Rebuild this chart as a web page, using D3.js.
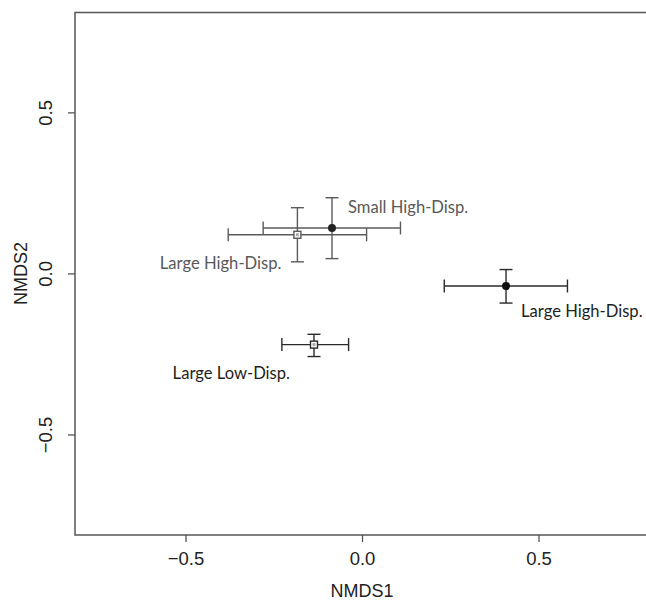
<!DOCTYPE html>
<html>
<head>
<meta charset="utf-8">
<script src="https://cdn.jsdelivr.net/npm/d3@7"></script>
<style>
  html, body { margin: 0; padding: 0; background: #fff; }
  svg { display: block; }
</style>
</head>
<body>
<svg id="chart" width="646" height="600"></svg>
<script>
// ---- data ----
const groups  = ["Small High-Disp.", "Large High-Disp.", "Large High-Disp.", "Large Low-Disp."];
const markers = ["circle", "square", "circle", "square"];
const nmds1   = [-0.085, -0.183, 0.408, -0.136];
const nmds1Lo = [-0.280, -0.379, 0.233, -0.227];
const nmds1Hi = [ 0.109,  0.013, 0.582, -0.038];
const nmds2   = [ 0.141,  0.120, -0.039, -0.221];
const nmds2Lo = [ 0.046,  0.036, -0.092, -0.258];
const nmds2Hi = [ 0.235,  0.204,  0.012, -0.189];
const xTicks = [-0.5, 0.0, 0.5];
const yTicks = [-0.5, 0.0, 0.5];
const xTickLabels = ["\u22120.5", "0.0", "0.5"];
const yTickLabels = ["\u22120.5", "0.0", "0.5"];

// ---- layout ----
const svg = d3.select("#chart");
const L = 75, R = 649, T = 12.5, B = 535;
const x = d3.scaleLinear().domain([-0.813, 0.813]).range([L, R]);
const y = d3.scaleLinear().domain([-0.812, 0.810]).range([B, T]);

const tones = ["#5a5a5a", "#5a5a5a", "#2a2a2a", "#2a2a2a"];
const textTones = ["#595959", "#595959", "#1e1e1e", "#1e1e1e"];
const markFill = ["#222", "none", "#111", "none"];
const labelPos = [
  {dx: 16, dy: -15, anchor: "start"},
  {dx: -16, dy: 34, anchor: "end"},
  {dx: 15, dy: 31, anchor: "start"},
  {dx: -24, dy: 34, anchor: "end"}
];
const sansFont = "Liberation Sans, Arial, sans-serif";

// axes
const axisColor = "#555";
const xAxis = svg.append("g").attr("transform", `translate(0,${B})`)
  .call(d3.axisBottom(x).tickValues(xTicks).tickSize(7).tickPadding(10)
    .tickFormat((d, i) => xTickLabels[i]));
const yAxis = svg.append("g").attr("transform", `translate(${L},0)`)
  .call(d3.axisLeft(y).tickValues(yTicks).tickSize(7).tickPadding(8)
    .tickFormat((d, i) => yTickLabels[i]));
[xAxis, yAxis].forEach(g => {
  g.select(".domain").remove();
  g.selectAll(".tick line").attr("stroke", axisColor).attr("stroke-width", 1.3);
  g.selectAll(".tick text").attr("font-family", sansFont)
    .attr("font-size", 18.5).attr("fill", "#222");
});
yAxis.selectAll(".tick text")
  .attr("text-anchor", "middle")
  .attr("transform", "rotate(-90)")
  .attr("x", 0).attr("dy", 0).attr("y", -23);

// box
svg.append("rect").attr("x", L).attr("y", T).attr("width", R - L).attr("height", B - T)
  .attr("fill", "none").attr("stroke", axisColor).attr("stroke-width", 1.5);

// axis titles
svg.append("text").attr("x", x(0)).attr("y", 597).attr("text-anchor", "middle")
  .attr("font-family", sansFont).attr("font-size", 18).attr("fill", "#222")
  .text("NMDS1");
svg.append("text").attr("transform", `translate(27,${y(0)}) rotate(-90)`).attr("text-anchor", "middle")
  .attr("font-family", sansFont).attr("font-size", 18).attr("fill", "#222")
  .text("NMDS2");

// error bars
const cap = 6.5;
const idx = d3.range(groups.length);
const g = svg.append("g");
idx.forEach(i => {
  const c = tones[i];
  const gg = g.append("g").attr("stroke", c).attr("stroke-width", 1.4).attr("fill", "none");
  gg.append("line").attr("x1", x(nmds1Lo[i])).attr("x2", x(nmds1Hi[i])).attr("y1", y(nmds2[i])).attr("y2", y(nmds2[i]));
  gg.append("line").attr("x1", x(nmds1Lo[i])).attr("x2", x(nmds1Lo[i])).attr("y1", y(nmds2[i]) - cap).attr("y2", y(nmds2[i]) + cap);
  gg.append("line").attr("x1", x(nmds1Hi[i])).attr("x2", x(nmds1Hi[i])).attr("y1", y(nmds2[i]) - cap).attr("y2", y(nmds2[i]) + cap);
  gg.append("line").attr("x1", x(nmds1[i])).attr("x2", x(nmds1[i])).attr("y1", y(nmds2Lo[i])).attr("y2", y(nmds2Hi[i]));
  gg.append("line").attr("x1", x(nmds1[i]) - cap).attr("x2", x(nmds1[i]) + cap).attr("y1", y(nmds2Lo[i])).attr("y2", y(nmds2Lo[i]));
  gg.append("line").attr("x1", x(nmds1[i]) - cap).attr("x2", x(nmds1[i]) + cap).attr("y1", y(nmds2Hi[i])).attr("y2", y(nmds2Hi[i]));
  if (markers[i] === "circle") {
    g.append("circle").attr("cx", x(nmds1[i])).attr("cy", y(nmds2[i])).attr("r", 4)
      .attr("fill", markFill[i]).attr("stroke", "none");
  } else {
    const s = 7;
    g.append("rect").attr("x", x(nmds1[i]) - s / 2).attr("y", y(nmds2[i]) - s / 2)
      .attr("width", s).attr("height", s).attr("fill", "#fff")
      .attr("stroke", c).attr("stroke-width", 1.4);
    g.append("rect").attr("x", x(nmds1[i]) - 1.5).attr("y", y(nmds2[i]) - 1.5)
      .attr("width", 3).attr("height", 3).attr("fill", "#aaa");
  }
  const lp = labelPos[i];
  svg.append("text").attr("x", x(nmds1[i]) + lp.dx).attr("y", y(nmds2[i]) + lp.dy)
    .attr("text-anchor", lp.anchor)
    .attr("font-family", "Lato, 'Open Sans', sans-serif").attr("font-size", 16.6)
    .attr("fill", textTones[i]).text(groups[i]);
});
</script>
</body>
</html>
